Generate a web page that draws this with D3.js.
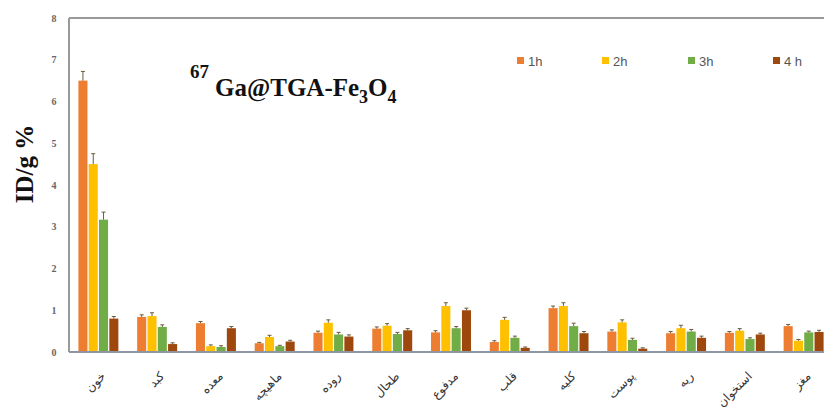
<!DOCTYPE html>
<html>
<head>
<meta charset="utf-8">
<script src="https://cdn.jsdelivr.net/npm/d3@7"></script>
<style>
  body { margin: 0; background: #fff; }
  svg { display: block; overflow: hidden; }
</style>
</head>
<body>
<svg id="chart" width="824" height="413"></svg>
<script>
// organ names (x categories)
const organs = ["خون", "کبد", "معده", "ماهیچه", "روده", "طحال", "مدفوع", "قلب", "کلیه", "پوست", "ریه", "استخوان", "مغز"];
const series = ["1h", "2h", "3h", "4h"];
const legendLabels = ["1h", "2h", "3h", "4 h"];

// ID/g % values
const h1 = [6.5, 0.84, 0.69, 0.21, 0.46, 0.56, 0.47, 0.24, 1.05, 0.49, 0.45, 0.46, 0.62];
const h2 = [4.5, 0.86, 0.14, 0.36, 0.70, 0.63, 1.10, 0.77, 1.10, 0.71, 0.57, 0.51, 0.27];
const h3 = [3.17, 0.60, 0.12, 0.14, 0.42, 0.43, 0.57, 0.34, 0.62, 0.29, 0.49, 0.31, 0.47];
const h4 = [0.80, 0.19, 0.57, 0.25, 0.37, 0.52, 1.00, 0.10, 0.45, 0.08, 0.34, 0.42, 0.48];
// error bars
const e1 = [0.22, 0.05, 0.04, 0.02, 0.04, 0.04, 0.04, 0.03, 0.05, 0.04, 0.04, 0.03, 0.04];
const e2 = [0.25, 0.08, 0.03, 0.04, 0.07, 0.05, 0.08, 0.06, 0.08, 0.06, 0.07, 0.05, 0.03];
const e3 = [0.18, 0.05, 0.03, 0.02, 0.05, 0.04, 0.04, 0.04, 0.07, 0.04, 0.05, 0.03, 0.03];
const e4 = [0.05, 0.03, 0.04, 0.03, 0.04, 0.04, 0.05, 0.02, 0.04, 0.02, 0.04, 0.03, 0.04];
const yTicks = [0, 1, 2, 3, 4, 5, 6, 7, 8];

const values = [h1, h2, h3, h4];
const errors = [e1, e2, e3, e4];
const colors = ["#ED7D31", "#FFC000", "#70AD47", "#9E480E"];

const svg = d3.select("#chart");

// plot area (the original image is cropped on the right)
const plotLeft = 69, plotRight = 833, plotTop = 18, plotBottom = 352;

const x0 = d3.scaleBand().domain(organs).range([plotLeft, plotRight]).paddingInner(0.32).paddingOuter(0.16);
const x1 = d3.scaleBand().domain(series).range([0, x0.bandwidth()]).paddingInner(0.12);
const y = d3.scaleLinear().domain([0, 8]).range([plotBottom, plotTop]);

// frame: top and left lines
svg.append("line").attr("x1", plotLeft).attr("x2", 824).attr("y1", plotTop).attr("y2", plotTop)
  .attr("stroke", "#999").attr("stroke-width", 2);
svg.append("line").attr("x1", plotLeft).attr("x2", plotLeft).attr("y1", plotTop).attr("y2", plotBottom)
  .attr("stroke", "#999").attr("stroke-width", 2);

// y axis tick labels
svg.append("g").selectAll("text").data(yTicks).join("text")
  .attr("x", 54).attr("y", d => y(d) + 3.5)
  .attr("text-anchor", "middle")
  .attr("font-family", "Liberation Serif, serif").attr("font-size", 10).attr("font-weight", "bold")
  .attr("fill", "#666")
  .text(d => d);

// bars
const flat = [];
organs.forEach((o, i) => series.forEach((s, j) => flat.push({ o, s, j, v: values[j][i], e: errors[j][i] })));

svg.append("g").selectAll("rect").data(flat).join("rect")
  .attr("x", d => x0(d.o) + x1(d.s))
  .attr("y", d => y(d.v))
  .attr("width", x1.bandwidth())
  .attr("height", d => y(0) - y(d.v))
  .attr("fill", d => colors[d.j]);

// error bars
const eg = svg.append("g").attr("stroke", "#6b5a3a").attr("stroke-width", 1);
eg.selectAll("line.v").data(flat).join("line").attr("class", "v")
  .attr("x1", d => x0(d.o) + x1(d.s) + x1.bandwidth() / 2)
  .attr("x2", d => x0(d.o) + x1(d.s) + x1.bandwidth() / 2)
  .attr("y1", d => y(d.v))
  .attr("y2", d => y(d.v + d.e));
eg.selectAll("line.c").data(flat).join("line").attr("class", "c")
  .attr("x1", d => x0(d.o) + x1(d.s) + x1.bandwidth() / 2 - 2)
  .attr("x2", d => x0(d.o) + x1(d.s) + x1.bandwidth() / 2 + 2)
  .attr("y1", d => y(d.v + d.e))
  .attr("y2", d => y(d.v + d.e));

// x baseline
svg.append("line").attr("x1", plotLeft).attr("x2", 824).attr("y1", plotBottom).attr("y2", plotBottom)
  .attr("stroke", "#8e96a3").attr("stroke-width", 2);

// category labels, rotated, right end hanging under the group
svg.append("g").selectAll("text").data(organs).join("text")
  .attr("transform", d => `translate(${x0(d) + x0.bandwidth() / 2 + 5},${374}) rotate(-45)`)
  .attr("text-anchor", "end")
  .attr("dy", "0.35em")
  .attr("font-family", "Noto Sans, DejaVu Sans, sans-serif").attr("font-size", 12)
  .attr("fill", "#333")
  .text(d => d);

// y axis title
svg.append("text")
  .attr("transform", "translate(33,164) rotate(-90)")
  .attr("text-anchor", "middle")
  .attr("font-family", "Liberation Serif, serif").attr("font-size", 25).attr("font-weight", "bold")
  .attr("fill", "#111")
  .text("ID/g %");

// chart title
const title = svg.append("text")
  .attr("x", 190).attr("y", 96)
  .attr("font-family", "Liberation Serif, serif").attr("font-weight", "bold").attr("font-size", 25)
  .attr("fill", "#111");
title.append("tspan").attr("font-size", 19).attr("dy", -18).text("67");
title.append("tspan").attr("dy", 18).attr("dx", 6).text("Ga@TGA-Fe");
title.append("tspan").attr("font-size", 18).attr("dy", 7).text("3");
title.append("tspan").attr("dy", -7).text("O");
title.append("tspan").attr("font-size", 18).attr("dy", 7).text("4");

// legend
const legendX = [517, 602, 688, 773];
const lg = svg.append("g").selectAll("g").data(series).join("g")
  .attr("transform", (d, i) => `translate(${legendX[i]},61)`);
lg.append("rect").attr("x", 0).attr("y", -4).attr("width", 7).attr("height", 7)
  .attr("fill", (d, i) => colors[i]);
lg.append("text").attr("x", 11).attr("y", 4.5)
  .attr("font-family", "Liberation Sans, Arial, sans-serif").attr("font-size", 13)
  .attr("fill", "#555")
  .text((d, i) => legendLabels[i]);
</script>
</body>
</html>
